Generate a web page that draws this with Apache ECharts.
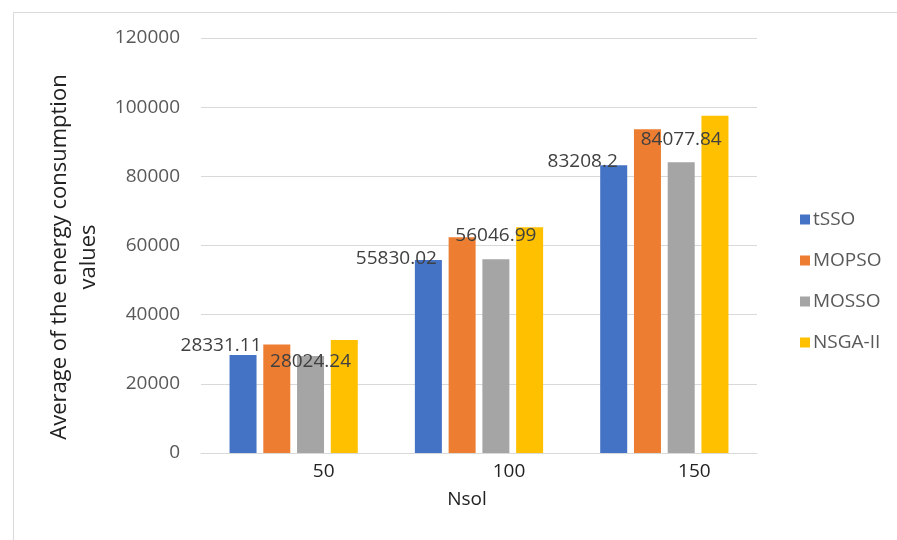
<!DOCTYPE html>
<html>
<head>
<meta charset="utf-8">
<script src="https://cdn.jsdelivr.net/npm/echarts@6/dist/echarts.min.js"></script>
<style>
  html, body { margin: 0; padding: 0; background: #ffffff; }
  #chart { width: 897px; height: 540px; }
</style>
</head>
<body>
<div id="chart"></div>
<script>
// Average energy consumption per algorithm for each Nsol setting
const categories = ['50', '100', '150'];
const seriesNames = ['tSSO', 'MOPSO', 'MOSSO', 'NSGA-II'];
const tsso  = [28331.11, 55830.02, 83208.2];
const mopso = [31400, 62400, 93600];
const mosso = [28024.24, 56046.99, 84077.84];
const nsga  = [32700, 65300, 97500];
const yTicks = { min: 0, max: 120000, step: 20000 };

const colors = ['#4472C4', '#ED7D31', '#A5A5A5', '#FFC000'];
const FONT = 'Open Sans';

// label placement tweaks for the two labelled series (pixel offsets)
const tssoLabelOffsets  = [[-22, 5], [-32, 13], [-31, 11]];
const mossoLabelOffsets = [[0, 20], [0, -9], [0, -8]];

function labelled(values, offsets) {
  return values.map((v, i) => ({
    value: v,
    label: {
      show: true,
      position: 'top',
      offset: offsets[i],
      formatter: String(v),
      color: '#404040',
      fontFamily: FONT,
      fontSize: 19
    }
  }));
}

const seriesData = [
  labelled(tsso, tssoLabelOffsets),
  mopso,
  labelled(mosso, mossoLabelOffsets),
  nsga
];

const chart = echarts.init(document.getElementById('chart'), null, { renderer: 'canvas' });

chart.setOption({
  animation: false,
  backgroundColor: '#ffffff',
  color: colors,
  textStyle: { fontFamily: FONT },
  grid: { left: 201, right: 140, top: 38, bottom: 87, containLabel: false },
  legend: {
    orient: 'vertical',
    left: 795,
    top: 205,
    itemWidth: 10,
    itemHeight: 10,
    itemGap: 22,
    icon: 'rect',
    data: seriesNames,
    textStyle: { color: '#595959', fontFamily: FONT, fontSize: 19, padding: [0, 0, 0, -2] }
  },
  xAxis: {
    type: 'category',
    data: categories,
    name: 'Nsol',
    nameLocation: 'middle',
    nameGap: 37,
    nameTextStyle: { color: '#222222', fontFamily: FONT, fontSize: 19, padding: [0, 24, 0, 0] },
    axisLine: { show: true, lineStyle: { color: '#d9d9d9', width: 1 } },
    axisTick: { show: false },
    axisLabel: {
      color: '#222222',
      fontFamily: FONT,
      fontSize: 19,
      margin: 9,
      padding: [0, 0, 0, 60]
    }
  },
  yAxis: {
    type: 'value',
    min: yTicks.min,
    max: yTicks.max,
    interval: yTicks.step,
    axisLine: { show: false },
    axisTick: { show: false },
    splitLine: { lineStyle: { color: '#d9d9d9', width: 1 } },
    axisLabel: {
      color: '#595959',
      fontFamily: FONT,
      fontSize: 19,
      margin: 21,
      formatter: (v) => String(v)
    }
  },
  graphic: [
    {
      type: 'rect',
      shape: { x: 13.5, y: 12.5, width: 1000, height: 1000 },
      style: { fill: 'none', stroke: '#d9d9d9', lineWidth: 1 },
      silent: true,
      z: -1
    },
    {
      type: 'text',
      x: 74,
      y: 257,
      rotation: Math.PI / 2,
      style: {
        text: 'Average of the energy consumption\nvalues',
        fill: '#222222',
        font: '22px "Open Sans"',
        textAlign: 'center',
        textVerticalAlign: 'middle',
        lineHeight: 29
      }
    }
  ],
  series: seriesNames.map((name, i) => ({
    name: name,
    type: 'bar',
    data: seriesData[i],
    barWidth: 27,
    barGap: '25%',
    barCategoryGap: '31%'
  }))
});
</script>
</body>
</html>
